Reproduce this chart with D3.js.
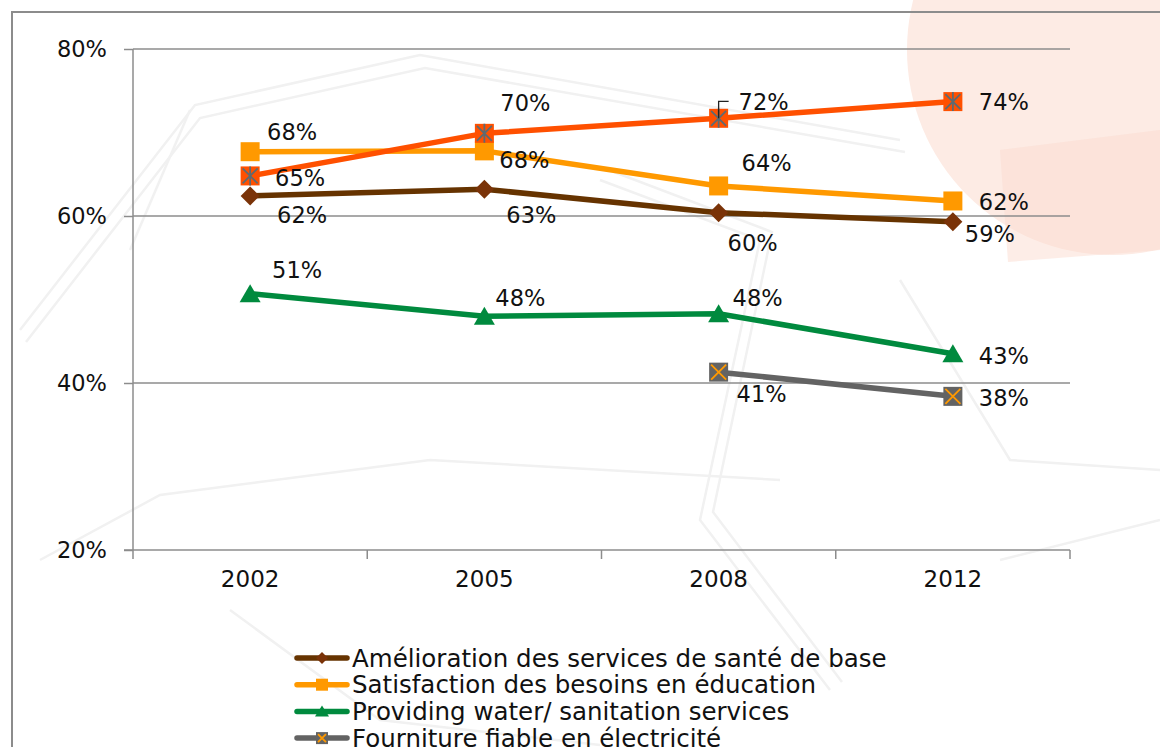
<!DOCTYPE html>
<html><head><meta charset="utf-8">
<script src="https://cdn.jsdelivr.net/npm/d3@7"></script>
<style>
html,body{margin:0;padding:0;background:#fff;overflow:hidden}
svg{display:block}
text{font-family:"Century Gothic","URW Gothic","DejaVu Sans",sans-serif;fill:#111}
</style></head>
<body>
<svg id="chart" width="1160" height="747"></svg>
<script>
const years = ["2002","2005","2008","2012"];
const yTicks = [20,40,60,80];
const seriesNames = [
  "Amélioration des services de santé de base",
  "Satisfaction des besoins en éducation",
  "Providing water/ sanitation services",
  "Fourniture fiable en électricité",
  ""
];
const santeValues = [62.4, 63.2, 60.4, 59.3];
const educationValues = [67.7, 67.8, 63.6, 61.8];
const waterValues = [50.7, 48.0, 48.3, 43.5];
const electriciteValues = [null, null, 41.3, 38.4];
const fifthValues = [64.8, 69.9, 71.7, 73.7];
const santeLabels = ["62%","63%","60%","59%"];
const educationLabels = ["68%","68%","64%","62%"];
const waterLabels = ["51%","48%","48%","43%"];
const electriciteLabels = [null,null,"41%","38%"];
const fifthLabels = ["65%","70%","72%","74%"];

// label placement offsets (style, not data)
const labelOffsets = [
  [[52,19],[47,26],[34,30],[37,12]],
  [[42,-20],[40,9],[48,-23],[51,1]],
  [[47,-24],[36,-18],[39,-16],[51,2]],
  [null,null,[43,22],[51,2]],
  [[50,2],[41,-30],[45,-16],[51,0]]
];
const styles = [
  {line:"#663300", marker:"diamond", fill:"#7A3308"},
  {line:"#FF9900", marker:"square", fill:"#FF9900"},
  {line:"#008A3E", marker:"triangle", fill:"#008A3E"},
  {line:"#636363", marker:"xsquare", fill:"#636363", cross:"#FF9900"},
  {line:"#FF5000", marker:"star", fill:"#FF5000", cross:"#5f6a70"}
];
const series = [
  {name:seriesNames[0], values:santeValues, labels:santeLabels},
  {name:seriesNames[1], values:educationValues, labels:educationLabels},
  {name:seriesNames[2], values:waterValues, labels:waterLabels},
  {name:seriesNames[3], values:electriciteValues, labels:electriciteLabels},
  {name:seriesNames[4], values:fifthValues, labels:fifthLabels}
];
const FONT = '"Century Gothic","URW Gothic","DejaVu Sans",sans-serif';

const svg = d3.select("#chart");
// background decoration
const bg = svg.append("g");
bg.append("circle").attr("cx",1112).attr("cy",50).attr("r",205).attr("fill","#fdebe4");
bg.append("path").attr("d","M1000,150 L1160,130 L1160,250 L1008,262 Z").attr("fill","#fbdcd0").attr("opacity",0.5);
const deco = [
  "M20,330 L195,105 L420,55 L900,140",
  "M26,342 L200,118 L425,68 L905,152",
  "M40,560 L160,495 L430,460 L780,480",
  "M130,250 L190,110",
  "M600,180 L760,240 L700,520 L830,690",
  "M614,172 L772,232 L713,512 L842,682",
  "M900,280 L1010,460 L1160,470",
  "M230,610 L380,720 L600,745",
  "M1000,560 L1160,520"
];
bg.selectAll("path.deco").data(deco).join("path").attr("class","deco")
  .attr("d",d=>d).attr("fill","none").attr("stroke","#f1f1f1").attr("stroke-width",2.5);

// outer border
svg.append("path").attr("d","M12,760 L12,12 L1170,12").attr("fill","none").attr("stroke","#8c8c8c").attr("stroke-width",2);

const x = d3.scaleBand().domain(years).range([133,1070]);
const y = d3.scaleLinear().domain([20,80]).range([550,49]);
const cx = d => x(d) + x.bandwidth()/2;

// gridlines
svg.append("g").selectAll("line").data(yTicks.filter(t=>t>20)).join("line")
  .attr("x1",133).attr("x2",1070).attr("y1",d=>y(d)).attr("y2",d=>y(d))
  .attr("stroke","#8c8c8c").attr("stroke-width",1.5);

// y axis
const yAx = svg.append("g").attr("transform","translate(133,0)")
  .call(d3.axisLeft(y).tickValues(yTicks).tickFormat(d=>d+"%").tickSize(9).tickPadding(17));
yAx.select(".domain").attr("stroke","#8c8c8c").attr("stroke-width",1.5).attr("d","M0,49V550");
yAx.selectAll(".tick line").attr("stroke","#8c8c8c").attr("stroke-width",1.5);
yAx.selectAll(".tick text").attr("font-size",22.5).attr("fill","#111").attr("font-family",FONT);

// x axis
const xAx = svg.append("g").attr("transform","translate(0,550)")
  .call(d3.axisBottom(x).tickSize(0).tickPadding(21));
xAx.select(".domain").attr("stroke","#8c8c8c").attr("stroke-width",1.5).attr("d","M124,0H1070");
xAx.selectAll(".tick text").attr("font-size",23).attr("fill","#111").attr("font-family",FONT);
const bounds = years.map(d=>x(d)).concat([x(years[years.length-1])+x.bandwidth()]);
svg.append("g").selectAll("line").data(bounds).join("line")
  .attr("x1",d=>d).attr("x2",d=>d).attr("y1",550).attr("y2",559)
  .attr("stroke","#8c8c8c").attr("stroke-width",1.5);

function drawMarker(g, st, px, py, s) {
  const h = s/2;
  if (st.marker==="diamond") {
    g.append("path").attr("d",`M${px},${py-h}L${px+h},${py}L${px},${py+h}L${px-h},${py}Z`).attr("fill",st.fill);
  } else if (st.marker==="square") {
    g.append("rect").attr("x",px-h).attr("y",py-h).attr("width",s).attr("height",s).attr("fill",st.fill);
  } else if (st.marker==="triangle") {
    g.append("path").attr("d",`M${px},${py-h}L${px+h+1},${py+h-1}L${px-h-1},${py+h-1}Z`).attr("fill",st.fill);
  } else if (st.marker==="xsquare") {
    g.append("rect").attr("x",px-h).attr("y",py-h).attr("width",s).attr("height",s).attr("fill",st.fill);
    const k=h-2;
    g.append("path").attr("d",`M${px-k},${py-k}L${px+k},${py+k}M${px+k},${py-k}L${px-k},${py+k}`)
      .attr("stroke",st.cross).attr("stroke-width",1.8);
  } else if (st.marker==="star") {
    g.append("rect").attr("x",px-h).attr("y",py-h).attr("width",s).attr("height",s).attr("fill",st.fill);
    const k=h-2;
    g.append("path").attr("d",`M${px-k},${py-k}L${px+k},${py+k}M${px+k},${py-k}L${px-k},${py+k}M${px},${py-h}L${px},${py+h}`)
      .attr("stroke",st.cross).attr("stroke-width",1.8);
  }
}

const line = d3.line().defined(d=>d.v!=null).x(d=>cx(d.year)).y(d=>y(d.v));
series.forEach((s,i)=>{
  const st = styles[i];
  const pts = years.map((yr,j)=>({year:yr, v:s.values[j]}));
  const g = svg.append("g");
  g.append("path").datum(pts).attr("d",line).attr("fill","none")
    .attr("stroke",st.line).attr("stroke-width",5.5).attr("stroke-linejoin","round");
  pts.forEach(p=>{ if(p.v!=null) drawMarker(g, st, cx(p.year), y(p.v), 19); });
});

// leader line for 72%
svg.append("path").attr("d",`M${cx("2008")},${y(fifthValues[2])}V${y(fifthValues[2])-17}h10`)
  .attr("fill","none").attr("stroke","#222").attr("stroke-width",1.3);

// data labels
series.forEach((s,i)=>{
  svg.append("g").selectAll("text").data(years.map((yr,j)=>({yr,j})).filter(d=>s.labels[d.j]!=null))
    .join("text")
    .attr("x",d=>cx(d.yr)+labelOffsets[i][d.j][0])
    .attr("y",d=>y(s.values[d.j])+labelOffsets[i][d.j][1])
    .attr("text-anchor","middle").attr("dominant-baseline","central")
    .attr("font-size",22.5).text(d=>s.labels[d.j]);
});

// legend
const leg = svg.append("g");
[0,1,2,3].forEach((i,k)=>{
  const ly = 658 + k*26.7;
  const st = styles[i];
  leg.append("line").attr("x1",297).attr("x2",347).attr("y1",ly).attr("y2",ly)
    .attr("stroke",st.line).attr("stroke-width",5.5).attr("stroke-linecap","round");
  drawMarker(leg, st, 322, ly, 12);
  leg.append("text").attr("x",352).attr("y",ly).attr("dominant-baseline","central")
    .attr("font-size",24.5).text(series[i].name);
});
</script>
</body></html>
